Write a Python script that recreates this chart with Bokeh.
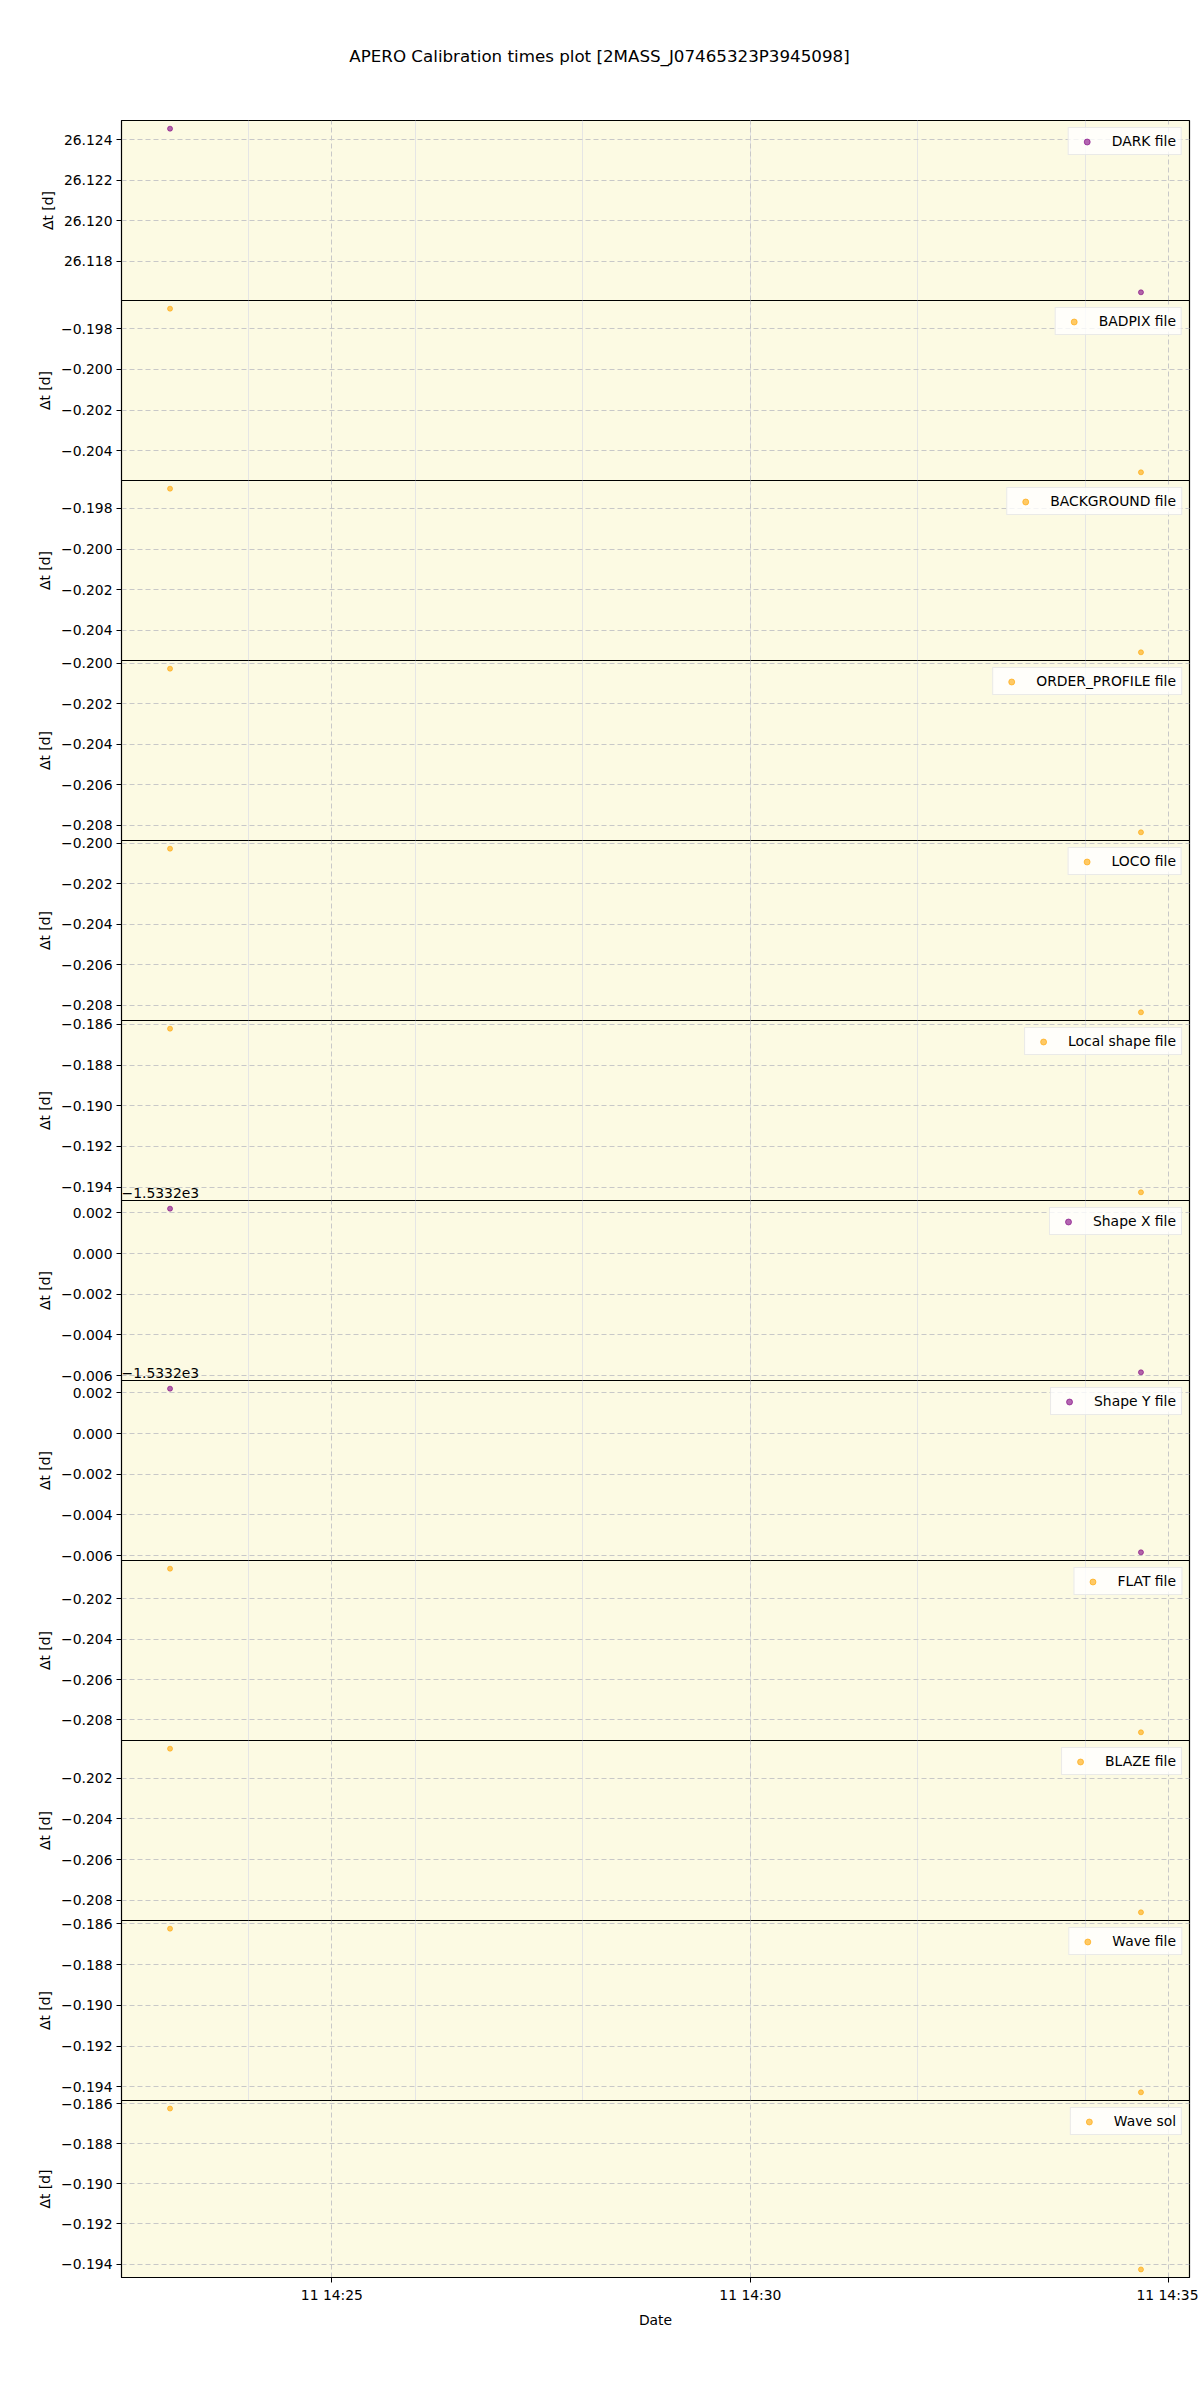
import numpy as np
import pandas as pd
from bokeh.plotting import figure
from bokeh.layouts import column
from bokeh.models import (Range1d, SingleIntervalTicker, FixedTicker, CustomJSTickFormatter,
                          DatetimeTickFormatter, Label, Grid)
from bokeh.embed import file_html
from bokeh.resources import INLINE

# --- data ---
title_text = "APERO Calibration times plot [2MASS_J07465323P3945098]"
obs_times = ["2019-12-11 14:23:04", "2019-12-11 14:34:40"]
x_tick_times = ["2019-12-11 14:25", "2019-12-11 14:30", "2019-12-11 14:35"]

file_labels = ["DARK file", "BADPIX file", "BACKGROUND file", "ORDER_PROFILE file",
               "LOCO file", "Local shape file", "Shape X file", "Shape Y file",
               "FLAT file", "BLAZE file", "Wave file", "Wave sol"]
file_colors = ["purple", "orange", "orange", "orange", "orange", "orange",
               "purple", "purple", "orange", "orange", "orange", "orange"]

dark_dt = [26.12456, 26.11646]
badpix_dt = [-0.19701, -0.20506]
background_dt = [-0.19703, -0.20508]
order_profile_dt = [-0.20028, -0.20835]
loco_dt = [-0.20028, -0.20835]
local_shape_dt = [-0.18621, -0.19426]
shape_x_dt = [-1533.19779, -1533.20584]
shape_y_dt = [-1533.19779, -1533.20584]
flat_dt = [-0.20052, -0.20861]
blaze_dt = [-0.20054, -0.20860]
wave_file_dt = [-0.18624, -0.19427]
wave_sol_dt = [-0.18624, -0.19427]

series = [dark_dt, badpix_dt, background_dt, order_profile_dt, loco_dt, local_shape_dt,
          shape_x_dt, shape_y_dt, flat_dt, blaze_dt, wave_file_dt, wave_sol_dt]
# matplotlib-style axis offsets (shown as "−1.5332e3")
y_offsets = [0, 0, 0, 0, 0, 0, -1533.2, -1533.2, 0, 0, 0, 0]
offset_text = "\u22121.5332e3"

FONT = "DejaVu Sans"
FS = "13.9px"
W = 1198
FRAME_L, FRAME_R = 121, 1189
PANEL_H = 180
B = 20          # transparent border so edge tick labels are not cut
BG = "#fcfae3"
GRID = "#c8c8c8"

x_ms = pd.to_datetime(obs_times).asi8 / 1e6
xt_ms = list(pd.to_datetime(x_tick_times).asi8 / 1e6)
xpad = 0.05 * (x_ms.max() - x_ms.min())
x_range = Range1d(x_ms.min() - xpad, x_ms.max() + xpad)

yfmt = CustomJSTickFormatter(code="""
const v = Math.abs(tick) < 1e-12 ? 0 : tick;
return v.toFixed(3).replace('-', '\u2212');
""")
dfmt = "%d %H:%M"
xfmt = DatetimeTickFormatter(seconds=dfmt, minsec=dfmt, minutes=dfmt, hourmin=dfmt,
                             hours=dfmt, days=dfmt)

# title strip (its frame lines up with the panels below)
HEAD_H = 120 - B
head = figure(width=W, height=HEAD_H, x_range=(0, 1), y_range=(0, 1),
              x_axis_location=None, y_axis_location=None,
              toolbar_location=None, output_backend="svg", min_border_top=0,
              min_border_bottom=0, min_border_left=FRAME_L, min_border_right=W - FRAME_R)
head.grid.visible = False
head.outline_line_color = None
head.add_layout(Label(x=(W / 2 - FRAME_L) / (FRAME_R - FRAME_L), y=1 - 55 / HEAD_H,
                      text=title_text, text_align="center", text_baseline="middle",
                      text_font=FONT, text_font_size="16.7px", text_color="black"))


def style_axis(ax, standoff):
    ax.axis_label_text_font = FONT
    ax.axis_label_text_font_size = FS
    ax.axis_label_text_font_style = "normal"
    ax.axis_label_text_color = "black"
    ax.axis_label_standoff = standoff
    ax.major_label_text_font = FONT
    ax.major_label_text_font_size = FS
    ax.major_label_text_color = "black"
    ax.major_label_standoff = 4
    ax.major_tick_out = 5
    ax.major_tick_in = 0
    ax.major_tick_line_color = "black"
    ax.minor_tick_line_color = None
    ax.axis_line_color = "black"


panels = []
n = len(series)
for i in range(n):
    last = i == n - 1
    yv = np.array(series[i]) - y_offsets[i]
    ypad = 0.05 * (yv.max() - yv.min())
    y_range = Range1d(yv.min() - ypad, yv.max() + ypad)
    p = figure(width=W, height=PANEL_H + B + (50 if last else B),
               x_range=x_range, y_range=y_range, x_axis_type="datetime",
               x_axis_location="below" if last else None,
               toolbar_location=None, output_backend="svg",
               min_border_left=FRAME_L, min_border_right=W - FRAME_R, min_border_top=B,
               min_border_bottom=50 if last else B,
               margin=(0 if i == 0 else -2 * B, 0, 0, 0))
    p.background_fill_color = BG
    p.border_fill_color = None
    p.border_fill_alpha = 0
    p.outline_line_color = "black"
    p.outline_line_width = 1.2

    p.scatter(x_ms, yv, size=5, color=file_colors[i], alpha=0.6,
              legend_label=file_labels[i])

    p.yaxis.ticker = SingleIntervalTicker(interval=0.002, num_minor_ticks=0)
    p.yaxis.formatter = yfmt
    p.yaxis.axis_label = "\u0394t [d]"
    for ax in p.yaxis:
        style_axis(ax, 5)
    p.ygrid.grid_line_color = GRID
    p.ygrid.grid_line_dash = "5 3"

    xticker = FixedTicker(ticks=xt_ms)
    if last:
        p.xaxis.ticker = xticker
        p.xaxis.formatter = xfmt
        p.xaxis.axis_label = "Date"
        for ax in p.xaxis:
            style_axis(ax, 6)
        p.xgrid.ticker = xticker
        p.xgrid.grid_line_color = GRID
        p.xgrid.grid_line_dash = "5 3"
    else:
        p.add_layout(Grid(dimension=0, ticker=xticker, grid_line_color=GRID,
                          grid_line_dash="5 3"))

    lg = p.legend[0]
    lg.location = "top_right"
    lg.margin = 7
    lg.padding = 5
    lg.spacing = 0
    lg.glyph_width = 26
    lg.glyph_height = 15
    lg.label_height = 15
    lg.label_standoff = 12
    lg.label_text_font = FONT
    lg.label_text_font_size = FS
    lg.label_text_color = "black"
    lg.border_line_color = "#d5d5d5"
    lg.background_fill_color = "white"
    lg.background_fill_alpha = 0.8

    # offset text of this axis sits just above its frame, i.e. inside the panel above
    if y_offsets[i] != 0 and panels:
        prev = panels[-1]
        prev.add_layout(Label(x=x_range.start, y=prev.y_range.start, y_offset=3,
                              text=offset_text, text_align="left", text_baseline="bottom",
                              text_font=FONT, text_font_size=FS, text_color="black"))
    panels.append(p)

layout = column(head, *panels, spacing=0)
open("out.html", "w").write(file_html(layout, INLINE))
